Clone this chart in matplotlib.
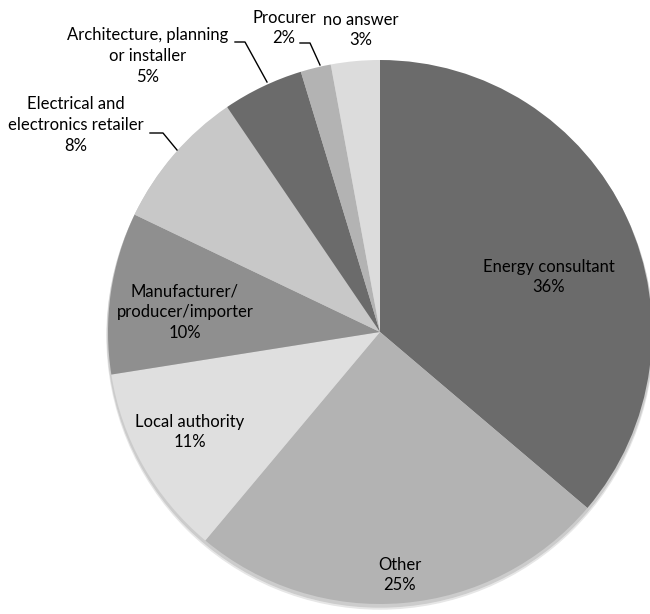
import matplotlib.pyplot as plt
from matplotlib.patches import Circle

# data
categories = ['Energy consultant', 'Other', 'Local authority',
              'Manufacturer/\nproducer/importer',
              'Electrical and\nelectronics retailer',
              'Architecture, planning\nor installer',
              'Procurer', 'no answer']
values = [36.2, 24.9, 11.4, 9.6, 8.4, 4.8, 1.8, 2.9]
greys = ['#6b6b6b', '#b3b3b3', '#dfdfdf', '#8f8f8f',
         '#c8c8c8', '#6b6b6b', '#b3b3b3', '#dcdcdc']

# label positions in pixel space (x, y from top), leader line for outside ones
label_pos = [(549, 277), (400, 575), (190, 432), (185, 312),
             (76, 125), (148, 56), (284, 28), (361, 30)]
leader = [None, None, None, None,
          [(150, 133), (163, 133), (177, 150)],
          [(235, 42), (245, 42), (267, 82)],
          [(300, 43), (310, 43), (320, 65)],
          None]

H = 614
plt.rcParams['font.family'] = ['Lato', 'DejaVu Sans']
fig = plt.figure(figsize=(6.5, 6.14), dpi=100)
ax = fig.add_axes([0, 0, 1, 1])

cx, cy, r = 380, H - 332, 272
# soft shadow under the pie
ax.add_patch(Circle((cx, cy - 4), r + 1, color='#e6e6e6', zorder=0))
ax.add_patch(Circle((cx, cy - 2.5), r + 0.5, color='#cccccc', zorder=0))
ax.pie(values, colors=greys, startangle=90, counterclock=False,
       center=(cx, cy), radius=r, frame=True,
       wedgeprops=dict(linewidth=0))
ax.set_xlim(0, 650)
ax.set_ylim(0, H)
ax.set_aspect('equal')
ax.axis('off')

for name, v, (x, y), ld in zip(categories, values, label_pos, leader):
    ax.text(x, H - y, '%s\n%.0f%%' % (name, v), ha='center', va='center',
            fontsize=12, color='#000000', linespacing=1.35)
    if ld:
        ax.plot([p[0] for p in ld], [H - p[1] for p in ld],
                color='black', lw=1)

plt.savefig('out.png', dpi=100)
